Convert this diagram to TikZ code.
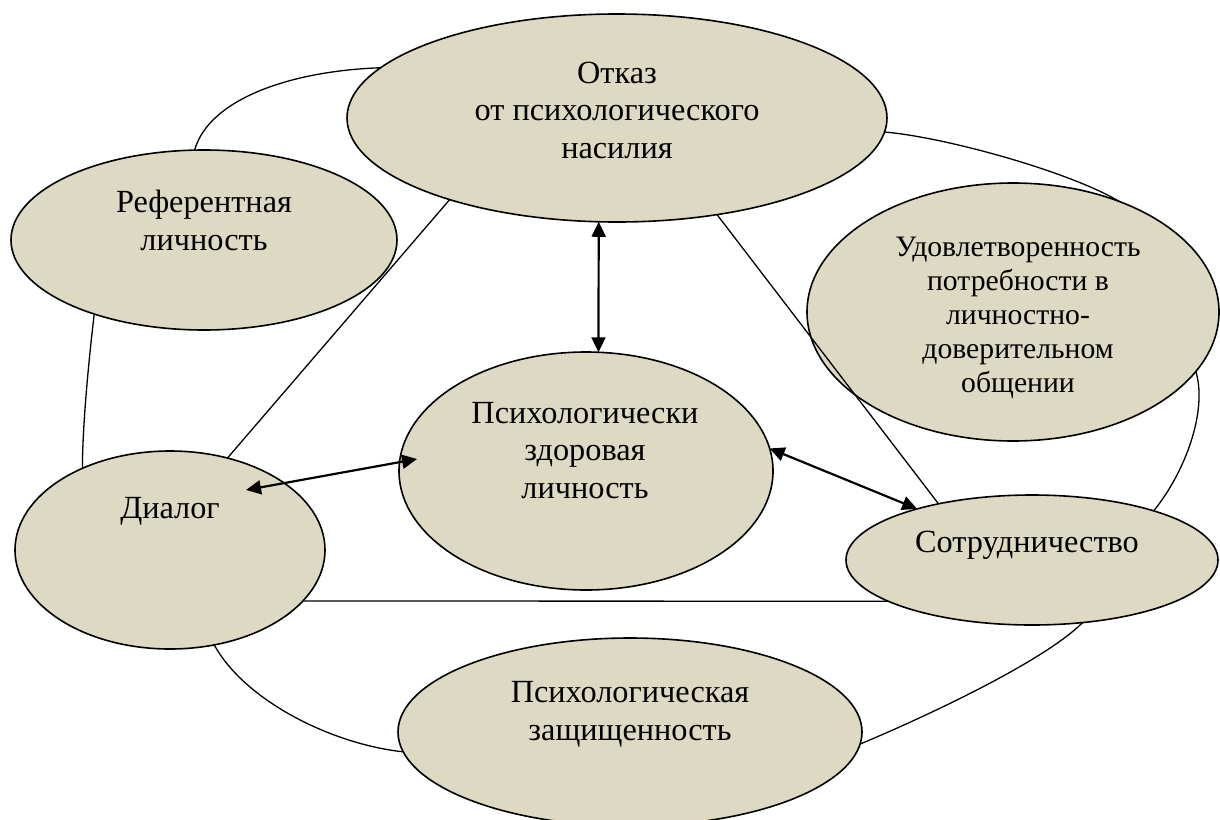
\documentclass[tikz,border=0pt]{standalone}
\usepackage{fontspec}
\setmainfont{Liberation Serif}
\usetikzlibrary{arrows.meta,shapes.geometric}
\definecolor{khaki}{RGB}{221,217,195}
\begin{document}
\begin{tikzpicture}[
  x=1pt, y=-1pt,
  oval/.style={ellipse,draw,fill=khaki,line width=1.6pt,inner sep=0pt,outer sep=0pt},
  txt/.style={align=center,anchor=base,font=\fontsize{32.3}{37.5}\selectfont},
  link/.style={line width=1.3pt},
  arr/.style={line width=2.2pt,{Triangle[length=15pt,width=14pt]}-{Triangle[length=15pt,width=14pt]}}
]
\useasboundingbox (0,0) rectangle (1220,819);
% ellipses
\node[oval,minimum width=540pt,minimum height=208pt] (otkaz) at (617,118) {};
\node[oval,minimum width=386pt,minimum height=180pt] (ref) at (204,240) {};
\node[oval,minimum width=412pt,minimum height=258pt] (udovl) at (1013,312) {};
\node[oval,minimum width=374pt,minimum height=238pt] (zdor) at (586,471) {};
\node[oval,minimum width=310pt,minimum height=198pt] (dialog) at (170,550) {};
\node[oval,minimum width=372pt,minimum height=130pt] (sotr) at (1032,560) {};
\node[oval,minimum width=464pt,minimum height=188pt] (zashch) at (630,732) {};
% texts (base = last line)
\node[txt] (otkaz-t) at (617,158) {Отказ\\от психологического\\насилия};
\node[txt] (ref-t) at (204,250) {Референтная\\личность};
\node[txt,font=\fontsize{29.7}{34}\selectfont] (udovl-t) at (1018,392)
  {Удовлетворенность\\потребности в\\личностно-\\доверительном\\общении};
\node[txt] (zdor-t) at (585,498) {Психологически\\здоровая\\личность};
\node[txt] (dialog-t) at (170,518) {Диалог};
\node[txt] (sotr-t) at (1027,552) {Сотрудничество};
\node[txt] (zashch-t) at (630,740) {Психологическая\\защищенность};
% outer ring
\draw[link] (ref.96) .. controls +(15,-52) and +(-88,3) .. (otkaz.168);
\draw[link] (otkaz.357) .. controls +(60,5) and +(-50,-30) .. (udovl.46);
\draw[link] (udovl.342) .. controls +(12,40) and +(31,-38) .. (sotr.22);
\draw[link] (ref.214) .. controls +(-6,50) and +(0,-40) .. (dialog.137);
\draw[link] (dialog.295) .. controls +(30,55) and +(-73,-8) .. (zashch.185);
\draw[link] (sotr.309) .. controls +(-40,40) and +(60,-25) .. (zashch.357);
% triangle
\draw[link] (dialog.58) -- (otkaz.206);
\draw[link] (otkaz.316) -- (sotr.149);
\draw[link] (dialog.339) -- (sotr.196);
% arrows to the centre
\coordinate (dlg-tip) at (246,490);
\coordinate (zdor-tip) at (417,459);
\draw[arr] (otkaz.260) -- (zdor.84);
\draw[arr] (dlg-tip) -- (zdor-tip);
\draw[arr] (zdor.7) -- (sotr.156);
\end{tikzpicture}
\end{document}
